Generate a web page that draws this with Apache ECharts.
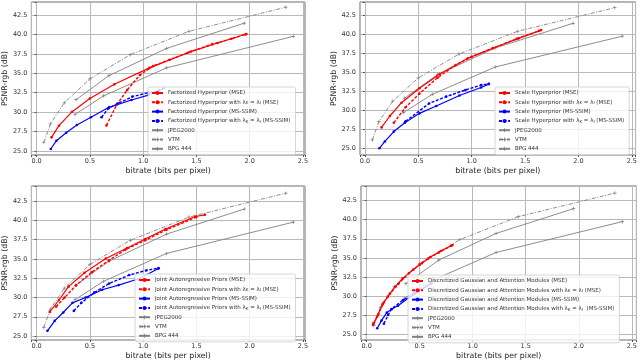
<!DOCTYPE html>
<html><head><meta charset="utf-8">
<script src="https://cdn.jsdelivr.net/npm/echarts@6/dist/echarts.min.js"></script>
<style>html,body{margin:0;padding:0;background:#fff}#c{width:640px;height:361px}</style>
</head><body><div id="c"></div>
<script>
// ---- shared anchor codecs ----
const jpeg2000 = [[0.36,29.7],[0.63,32.1],[1.22,35.7],[2.41,39.75]];
const vtm      = [[0.068,26.1],[0.13,28.5],[0.26,31.2],[0.50,34.27],[0.88,37.4],[1.43,40.4],[2.34,43.5]];
const bpg444   = [[0.37,31.6],[0.68,34.7],[1.22,38.2],[1.95,41.45]];

// ---- panel 1: Factorized Hyperprior ----
const fh_mse       = [[0.14,26.76],[0.21,28.26],[0.334,30.06],[0.50,31.75],[0.73,33.58],[1.06,35.7],[1.42,37.65],[1.70,38.9],[1.97,40.06]];
const fh_mse_lam   = [[0.656,28.3],[0.755,31.0],[0.85,32.85],[0.97,34.78],[1.095,35.94],[1.25,36.75],[1.45,37.8],[1.65,38.75],[1.83,39.45],[1.96,40.0]];
const fh_ssim      = [[0.133,25.26],[0.186,26.33],[0.278,27.36],[0.378,28.35],[0.51,29.34],[0.68,30.62],[0.89,31.56],[1.05,32.2],[1.19,33.05]];
const fh_ssim_lam  = [[0.61,29.34],[0.675,30.5],[0.76,31.1],[0.9,32.0],[1.05,32.5],[1.15,32.85]];

// ---- panel 2: Scale Hyperprior ----
const sh_mse       = [[0.155,27.75],[0.233,29.25],[0.342,31.0],[0.51,32.9],[0.70,34.78],[0.963,36.84],[1.196,38.16],[1.44,39.47],[1.65,40.55]];
const sh_mse_lam   = [[0.27,28.37],[0.38,30.4],[0.51,32.2],[0.68,34.3],[0.85,35.95],[1.0,37.05],[1.2,38.2],[1.42,39.4],[1.63,40.45]];
const sh_ssim      = [[0.134,25.0],[0.186,25.9],[0.27,27.2],[0.373,28.37],[0.51,29.6],[0.668,30.57],[0.885,31.95],[1.087,33.0],[1.16,33.45]];
const sh_ssim_lam  = [[0.38,28.55],[0.60,30.9],[0.76,31.8],[0.94,32.67],[1.09,33.33],[1.16,33.5]];

// ---- panel 3: Joint Autoregressive Priors ----
const ja_mse       = [[0.124,28.13],[0.21,29.67],[0.30,31.4],[0.45,33.2],[0.65,35.04],[0.85,36.4],[1.02,37.57],[1.21,38.86],[1.49,40.48],[1.58,40.7]];
const ja_mse_lam   = [[0.183,28.8],[0.263,29.98],[0.37,31.56],[0.52,33.3],[0.68,34.8],[0.835,36.2],[1.02,37.4],[1.22,38.77],[1.50,40.4]];
const ja_ssim      = [[0.102,25.68],[0.17,26.97],[0.25,28.05],[0.337,29.3],[0.46,30.0],[0.616,31.0],[0.77,31.6],[0.96,32.42],[1.145,33.75]];
const ja_ssim_lam  = [[0.35,28.26],[0.42,29.3],[0.54,30.62],[0.68,31.8],[0.87,32.9],[1.03,33.5],[1.145,33.8]];

// ---- panel 4: Discretized Gaussian and Attention Modules ----
const dg_mse       = [[0.06,26.2],[0.10,27.3],[0.15,28.9],[0.20,29.9],[0.27,31.2],[0.34,32.3],[0.44,33.45],[0.52,34.28],[0.60,35.1],[0.70,35.9],[0.81,36.68]];
const dg_mse_lam   = [[0.065,26.4],[0.11,27.6],[0.16,29.1],[0.22,30.3],[0.30,31.6],[0.40,33.0],[0.50,34.1],[0.58,34.9],[0.68,35.7],[0.80,36.6]];
const dg_ssim      = [[0.10,25.75],[0.14,26.75],[0.19,27.8],[0.234,28.24],[0.296,28.7],[0.40,29.8],[0.515,30.77],[0.61,31.7]];
const dg_ssim_lam  = [[0.163,26.35],[0.203,27.5],[0.234,28.28],[0.343,29.46],[0.453,30.34],[0.61,31.65]];

const methods = ['Factorized Hyperprior','Scale Hyperprior','Joint Autoregressive Priors','Discretized Gaussian and Attention Modules'];
const methodData = [
  [fh_mse, fh_mse_lam, fh_ssim, fh_ssim_lam],
  [sh_mse, sh_mse_lam, sh_ssim, sh_ssim_lam],
  [ja_mse, ja_mse_lam, ja_ssim, ja_ssim_lam],
  [dg_mse, dg_mse_lam, dg_ssim, dg_ssim_lam]
];
const xTitle = 'bitrate (bits per pixel)';
const yTitle = 'PSNR-rgb (dB)';

// layout (pixels) and axis extents
const panels = [
  {grid:{left:28,top:2,width:277,height:153}, x:[-0.049,2.52], y:[24.49,44.17], yGap:19, legend:{left:148,top:87}},
  {grid:{left:360,top:2,width:277,height:153}, x:[-0.047,2.535], y:[24.12,44.25], yGap:21, legend:{left:495,top:87}},
  {grid:{left:28,top:186,width:277,height:155}, x:[-0.049,2.52], y:[24.49,44.43], yGap:19, legend:{left:135,top:274}},
  {grid:{left:361,top:186,width:277,height:154}, x:[-0.053,2.543], y:[24.21,44.43], yGap:22, legend:{left:408,top:275}}
];

const FONT = 'DejaVu Sans';
const RED = '#ff0000', BLUE = '#0000ff', GRAY = '#808080', GRID = '#b8b8b8';
const PLUS = 'path://M0,4H10V6H0ZM4,0H6V10H4Z';

function isMult(v, s){ const r = v / s; return Math.abs(r - Math.round(r)) < 1e-6; }

const grids = [], xAxes = [], yAxes = [], series = [], legends = [];
panels.forEach((p, i) => {
  grids.push(Object.assign({show:true, borderColor:'#444', borderWidth:0.8}, p.grid));
  const axisCommon = (step, ext) => ({
    type:'value', gridIndex:i, min:ext[0], max:ext[1], minInterval:step, maxInterval:step,
    axisLine:{show:false}, axisTick:{show:true, length:2},
    splitLine:{show:true, lineStyle:{color:GRID, width:1}},
    axisLabel:{fontFamily:FONT, fontSize:6.5, color:'#333',
      formatter:v => isMult(v,step) ? v.toFixed(1) : ''},
    nameLocation:'middle',
    nameTextStyle:{fontFamily:FONT, fontSize:7.8, color:'#222'}
  });
  const xa = axisCommon(0.5, p.x);
  xa.name = xTitle; xa.nameGap = 12; xa.axisLabel.margin = 3;
  const ya = axisCommon(2.5, p.y);
  ya.name = yTitle; ya.nameGap = p.yGap; ya.axisLabel.margin = 4;
  xAxes.push(xa); yAxes.push(ya);

  const m = methods[i];
  const names = [
    m + ' (MSE)',
    m + ' with λ_K = λ_I (MSE)',
    m + ' (MS-SSIM)',
    m + ' with λ_K = λ_I ' + (i === 3 ? ' ' : '') + '(MS-SSIM)'
  ];
  const styles = [
    {color:RED, type:'solid', w:1.2},
    {color:RED, type:[3,1.6], w:1.4},
    {color:BLUE, type:'solid', w:1.2},
    {color:BLUE, type:[3,1.6], w:1.4}
  ];
  methodData[i].forEach((d, k) => {
    const s = styles[k];
    series.push({
      type:'line', name:names[k], xAxisIndex:i, yAxisIndex:i, data:d,
      symbol:'circle', symbolSize:2.6, showSymbol:true,
      lineStyle:{color:s.color, width:s.w, type:s.type},
      itemStyle:{color:s.color}, z:3
    });
  });
  const refs = [
    {name:'JPEG2000', data:jpeg2000, type:'solid'},
    {name:'VTM', data:vtm, type:[4,1.5,1,1.5]},
    {name:'BPG 444', data:bpg444, type:'solid'}
  ];
  refs.forEach(r => {
    series.push({
      type:'line', name:r.name, xAxisIndex:i, yAxisIndex:i, data:r.data,
      symbol:PLUS, symbolSize:3.5, showSymbol:true,
      lineStyle:{color:GRAY, width:0.9, type:r.type},
      itemStyle:{color:GRAY}, z:2
    });
  });
  legends.push({
    left:p.legend.left, top:p.legend.top, orient:'vertical',
    data: names.concat(['JPEG2000','VTM','BPG 444']),
    itemWidth:11, itemHeight:5, itemGap:3.3, padding:[3,5,3,3],
    backgroundColor:'rgba(255,255,255,0.8)', borderColor:'#cccccc', borderWidth:0.8, borderRadius:2,
    selectedMode:false,
    textStyle:{fontFamily:FONT, fontSize:5.5, color:'#333', lineHeight:6,
      rich:{s:{fontFamily:FONT, fontSize:4, color:'#333', verticalAlign:'bottom', lineHeight:6}}},
    formatter: n => n.replace(/λ_(\w)/g, 'λ{s|$1}')
  });
});

const chart = echarts.init(document.getElementById('c'));
chart.setOption({animation:false, backgroundColor:'#fff', grid:grids, xAxis:xAxes, yAxis:yAxes, series:series, legend:legends});
</script>
</body></html>
